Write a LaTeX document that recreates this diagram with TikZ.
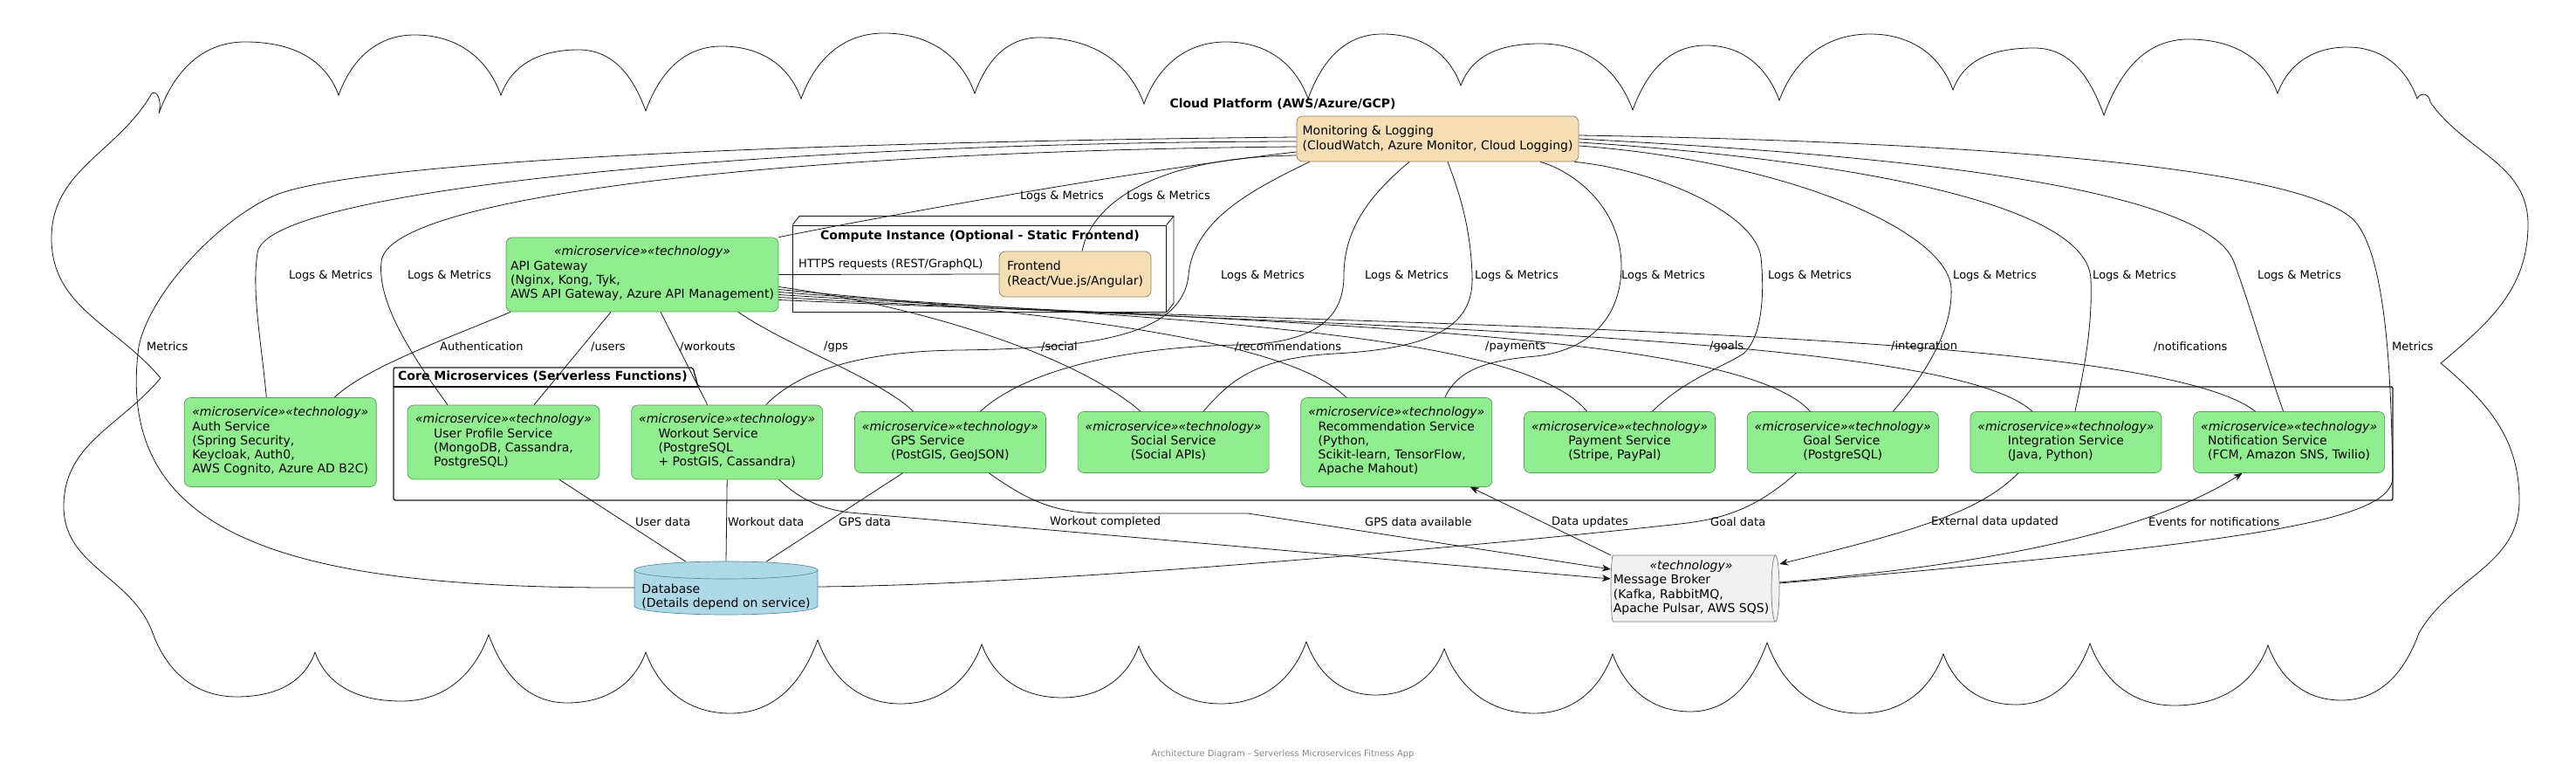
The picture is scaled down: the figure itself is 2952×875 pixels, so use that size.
\documentclass[tikz,border=0pt]{standalone}
\usepackage{fontspec}
\setmainfont{DejaVu Sans}
\usetikzlibrary{positioning,arrows.meta}

\definecolor{svcgreen}{HTML}{90EE90}
\definecolor{svcline}{HTML}{5A9A5A}
\definecolor{wheatfill}{HTML}{F5DEB3}
\definecolor{wheatline}{HTML}{8E7F62}
\definecolor{dbfill}{HTML}{ADD8E6}
\definecolor{dbline}{HTML}{5E8C9C}
\definecolor{queuefill}{HTML}{F1F1F1}
\definecolor{queueline}{HTML}{7A7A7A}
\definecolor{edgeblack}{HTML}{181818}
\definecolor{footgray}{HTML}{888888}

\newcommand{\nodefont}{\fontsize{14}{16.3}\selectfont}
\newcommand{\lblfont}{\fontsize{13}{15}\selectfont}
\newcommand{\svctext}[1]{\textit{«microservice»«technology»}\\\begin{tabular}[t]{@{}l@{}}#1\end{tabular}}
\newcommand{\techtext}[1]{\textit{«technology»}\\\begin{tabular}[t]{@{}l@{}}#1\end{tabular}}

\begin{document}
\begin{tikzpicture}[x=1pt, y=1pt,
  svc/.style={draw=svcline, fill=svcgreen, line width=0.7pt, rounded corners=7pt, minimum width=219pt, inner sep=0pt, align=center, font=\nodefont},
  infra/.style={draw=wheatline, fill=wheatfill, line width=0.7pt, rounded corners=7pt, inner sep=0pt, align=left, font=\nodefont},
  textonly/.style={inner sep=0pt, align=left, font=\nodefont},
  ttl/.style={inner sep=0pt, font=\nodefont\bfseries},
  lbl/.style={inner sep=0pt, anchor=west, font=\lblfont},
  link/.style={draw=edgeblack, line width=0.8pt},
  arr/.style={link, -{Stealth[length=10pt,width=8pt,inset=3pt]}},
  pkgframe/.style={draw=edgeblack, line width=1.3pt, rounded corners=2pt},
  cloudline/.style={draw=edgeblack, line width=0.8pt}
]
\useasboundingbox (0,0) rectangle (2952,875);

% cloud outline
\draw[cloudline] (182,745)
  \foreach \px/\py/\cx/\cy in {281/827/388/766, 475/835/574/766, 663/818/740/748, 827/822/918/762, 1013/837/1117/768, 1191/832/1311/756, 1405/827/1499/762, 1584/836/1674/777, 1765/825/1871/749, 1955/823/2039/760, 2143/836/2238/772, 2331/820/2411/743, 2508/830/2610/768, 2690/821/2770/762}
    { to[out=70,in=180] (\px,\py) to[out=0,in=110] (\cx,\cy) }
  .. controls (2774,770) and (2784,768) .. (2785,758)
  to[out=-55,in=90] (2897,618) to[out=-90,in=40] (2797,459)
  to[out=-40,in=90] (2887,302) to[out=-90,in=60] (2772,150)
  \foreach \bx/\by/\cx/\cy in {2683/73/2599/136, 2492/67/2395/138, 2310/68/2227/126, 2132/58/2025/139, 1937/60/1848/126, 1758/58/1655/132, 1576/79/1497/140, 1399/69/1305/135, 1217/76/1125/137, 1032/69/937/142, 837/58/740/128, 650/70/560/148, 460/72/361/128, 271/77/175/150}
    { to[out=-110,in=0] (\bx,\by) to[out=180,in=-70] (\cx,\cy) }
  to[out=110,in=-90] (73,295) to[out=90,in=-130] (184,442)
  to[out=130,in=-90] (59,602) to[out=90,in=-120] (174,768)
  .. controls (180,772) and (186,760) .. (182,745);
\node[ttl] (cloud_title) at (1470,756) {Cloud Platform (AWS/Azure/GCP)};

% core microservices package
\draw[pkgframe] (451,302) -- (451,454) -- (794,454) -- (800,432) -- (2742,432) -- (2742,302) -- cycle;
\draw[pkgframe] (451,432) -- (800,432);
\node[ttl, anchor=west] (core_title) at (456,444) {Core Microservices (Serverless Functions)};

% compute instance box
\node[draw=edgeblack, line width=0.9pt, minimum width=428pt, minimum height=99pt, inner sep=0pt] (compute) at (1122.5,567.5) {};
\draw[edgeblack, line width=0.9pt] (compute.north west) -- ++(8,10) -- ([shift={(8,10)}]compute.north east) -- ([shift={(8,10)}]compute.south east) -- (compute.south east);
\draw[edgeblack, line width=0.9pt] (compute.north east) -- ++(8,10);
\node[ttl] (compute_title) at (1123,604) {Compute Instance (Optional - Static Frontend)};

% nodes
\node[infra, minimum width=323pt, minimum height=52pt] (monitoring) at (1647.5,716) {Monitoring \& Logging\\(CloudWatch, Azure Monitor, Cloud Logging)};
\node[svc, minimum width=312pt, minimum height=85pt] (api_gateway) at (736,560.5) {\svctext{API Gateway\\(Nginx, Kong, Tyk,\\AWS API Gateway, Azure API Management)}};
\node[infra, minimum width=174pt, minimum height=52pt] (frontend) at (1232,561) {Frontend\\(React/Vue.js/Angular)};

\node[svc, minimum width=220pt, minimum height=85pt] (user_profile) at (577,368.5) {\svctext{User Profile Service\\(MongoDB, Cassandra,\\PostgreSQL)}};
\node[svc, minimum width=220pt, minimum height=102pt, left=35pt of user_profile] (auth) {\svctext{Auth Service\\(Spring Security,\\Keycloak, Auth0,\\AWS Cognito, Azure AD B2C)}};
\node[svc, minimum height=85pt, right=36pt of user_profile] (workout) {\svctext{Workout Service\\(PostgreSQL\\+ PostGIS, Cassandra)}};
\node[svc, minimum height=70pt, right=36pt of workout] (gps) {\svctext{GPS Service\\(PostGIS, GeoJSON)}};
\node[svc, minimum height=70pt, right=36pt of gps] (social) {\svctext{Social Service\\(Social APIs)}};
\node[svc, minimum height=102pt, right=36pt of social] (recommendation) {\svctext{Recommendation Service\\(Python,\\Scikit-learn, TensorFlow,\\Apache Mahout)}};
\node[svc, minimum height=70pt, right=36pt of recommendation] (payment) {\svctext{Payment Service\\(Stripe, PayPal)}};
\node[svc, minimum height=70pt, right=36pt of payment] (goal) {\svctext{Goal Service\\(PostgreSQL)}};
\node[svc, minimum height=70pt, right=36pt of goal] (integration) {\svctext{Integration Service\\(Java, Python)}};
\node[svc, minimum height=70pt, right=36pt of integration] (notification) {\svctext{Notification Service\\(FCM, Amazon SNS, Twilio)}};

% database cylinder
\filldraw[draw=dbline, fill=dbfill, line width=0.7pt] (727,222) -- (727,181) arc[start angle=180, end angle=360, x radius=105, y radius=10] -- (937,222) arc[start angle=0, end angle=180, x radius=105, y radius=10] -- cycle;
\draw[dbline, line width=0.7pt] (727,222) arc[start angle=180, end angle=360, x radius=105, y radius=10];
\node[textonly, minimum width=210pt, minimum height=41pt] (database) at (832,191.5) {Database\\(Details depend on service)};

% message broker queue
\filldraw[draw=queueline, fill=queuefill, line width=0.7pt] (1848.5,239) -- (2034.5,239) arc[start angle=90, end angle=-90, x radius=4.5, y radius=38] -- (1848.5,163) arc[start angle=270, end angle=90, x radius=2.5, y radius=38] -- cycle;
\draw[queueline, line width=0.7pt] (2034.5,239) arc[start angle=90, end angle=270, x radius=4.5, y radius=38];
\node[textonly, align=center, minimum width=184pt, minimum height=76pt] (broker) at (1938,201) {\techtext{Message Broker\\(Kafka, RabbitMQ,\\Apache Pulsar, AWS SQS)}};

% gateway routes
\draw[link] (api_gateway.east) -- (frontend.west);
\draw[link] ([xshift=-151pt]api_gateway.south) .. controls (520,490) and (420,455) .. ([xshift=62pt]auth.north);
\draw[link] ([xshift=-36pt]api_gateway.south) -- ([xshift=35pt]user_profile.north);
\draw[link] ([xshift=21pt]api_gateway.south) -- ([xshift=-22.5pt]workout.north);
\draw[link] ([xshift=110pt]api_gateway.south) .. controls (900,480) and (1010,440) .. ([xshift=-42.5pt]gps.north);
\draw[link] ([yshift=-14pt]api_gateway.east) .. controls (1050,525) and (1230,470) .. ([xshift=-37.5pt]social.north);
\draw[link] ([yshift=-17pt]api_gateway.east) .. controls (1200,515) and (1470,490) .. ([xshift=-57.5pt]recommendation.north);
\draw[link] ([yshift=-20pt]api_gateway.east) .. controls (1300,510) and (1740,500) .. ([xshift=-37.5pt]payment.north);
\draw[link] ([yshift=-23pt]api_gateway.east) .. controls (1400,505) and (1990,500) .. ([xshift=-37.5pt]goal.north);
\draw[link] ([yshift=-26pt]api_gateway.east) .. controls (1500,500) and (2230,495) .. ([xshift=-38.5pt]integration.north);
\draw[link] ([yshift=-29pt]api_gateway.east) .. controls (1600,500) and (2460,500) .. ([xshift=-38.5pt]notification.north);

\node[lbl] (lbl_https) at (915,572) {HTTPS requests (REST/GraphQL)};
\node[lbl] (lbl_auth) at (504,478) {Authentication};
\node[lbl] (lbl_users) at (677,478) {/users};
\node[lbl] (lbl_workouts) at (779,478) {/workouts};
\node[lbl] (lbl_gps) at (944,478) {/gps};
\node[lbl] (lbl_social) at (1193,478) {/social};
\node[lbl] (lbl_rec) at (1415,478) {/recommendations};
\node[lbl] (lbl_payments) at (1702,478) {/payments};
\node[lbl] (lbl_goals) at (1959,478) {/goals};
\node[lbl] (lbl_integration) at (2167,478) {/integration};
\node[lbl] (lbl_notifications) at (2468,478) {/notifications};

% logs and metrics
\draw[link] ([xshift=-16pt]auth.north) .. controls (300,480) and (288,540) .. (295,585) .. controls (302,660) and (900,712) .. ([yshift=-3pt]monitoring.west);
\draw[link] ([xshift=-64pt]user_profile.north) .. controls (470,470) and (432,530) .. (437,575) .. controls (442,650) and (900,702) .. ([yshift=-9pt]monitoring.west);
\draw[link] (api_gateway.north east) .. controls (1000,625) and (1300,680) .. ([yshift=-15pt]monitoring.west);
\draw[link] ([xshift=8pt]frontend.north) .. controls (1250,640) and (1320,695) .. ([yshift=-19pt]monitoring.west);
\draw[link] ([xshift=44.5pt]workout.north) .. controls (920,455) and (1000,473) .. (1100,474) .. controls (1250,476) and (1355,490) .. (1362,560) .. controls (1368,625) and (1440,660) .. ([xshift=15pt]monitoring.south west);
\draw[link] ([xshift=34.5pt]gps.north) .. controls (1180,455) and (1300,478) .. (1420,480) .. controls (1520,482) and (1540,520) .. (1540,560) .. controls (1540,620) and (1580,660) .. ([xshift=-32.5pt]monitoring.south);
\draw[link] ([xshift=34.5pt]social.north) .. controls (1410,440) and (1440,465) .. (1530,470) .. controls (1640,476) and (1690,500) .. (1687,560) .. controls (1685,620) and (1670,660) .. ([xshift=11.5pt]monitoring.south);
\draw[link] ([xshift=55.5pt]recommendation.north) .. controls (1670,450) and (1700,462) .. (1760,467) .. controls (1830,475) and (1858,520) .. (1858,570) .. controls (1858,640) and (1800,680) .. ([xshift=117.5pt]monitoring.south);
\draw[link] ([xshift=37.5pt]payment.north) .. controls (1930,440) and (1975,455) .. (1998,470) .. controls (2020,490) and (2022,540) .. (2018,580) .. controls (2012,630) and (1900,680) .. ([xshift=-5pt]monitoring.south east);
\draw[link] ([xshift=57.5pt]goal.north) .. controls (2210,450) and (2238,500) .. (2236,545) .. controls (2232,610) and (2050,690) .. ([yshift=-8pt]monitoring.east);
\draw[link] ([xshift=10.5pt]integration.north) .. controls (2388,450) and (2398,500) .. (2396,555) .. controls (2392,660) and (2000,700) .. ([yshift=-4pt]monitoring.east);
\draw[link] ([xshift=-6.5pt]notification.north) .. controls (2600,450) and (2580,520) .. (2560,575) .. controls (2520,680) and (2000,705) .. (monitoring.east);
\draw[link] ([yshift=2pt]monitoring.west) .. controls (900,712) and (400,690) .. (312,650) .. controls (250,622) and (172,540) .. (159,478) .. controls (130,260) and (330,200) .. ([yshift=10.5pt]database.west);
\draw[link] ([yshift=4pt]monitoring.east) .. controls (2300,712) and (2650,680) .. (2700,620) .. controls (2740,570) and (2740,400) .. (2742,330) .. controls (2744,280) and (2600,255) .. ([xshift=9pt,yshift=6pt]broker.east);

\node[lbl] (lbl_api_logs) at (1169,650) {Logs \& Metrics};
\node[lbl] (lbl_frontend_logs) at (1291,650) {Logs \& Metrics};
\node[lbl] (lbl_auth_logs) at (331,559) {Logs \& Metrics};
\node[lbl] (lbl_user_logs) at (467,559) {Logs \& Metrics};
\node[lbl] (lbl_workout_logs) at (1399,559) {Logs \& Metrics};
\node[lbl] (lbl_gps_logs) at (1564,559) {Logs \& Metrics};
\node[lbl] (lbl_social_logs) at (1690,559) {Logs \& Metrics};
\node[lbl] (lbl_rec_logs) at (1858,559) {Logs \& Metrics};
\node[lbl] (lbl_payment_logs) at (2026,559) {Logs \& Metrics};
\node[lbl] (lbl_goal_logs) at (2238,559) {Logs \& Metrics};
\node[lbl] (lbl_integration_logs) at (2398,559) {Logs \& Metrics};
\node[lbl] (lbl_notification_logs) at (2587,559) {Logs \& Metrics};
\node[lbl] (lbl_db_metrics) at (168,478) {Metrics};
\node[lbl] (lbl_broker_metrics) at (2741,478) {Metrics};

% data and events
\draw[link] ([xshift=64pt]user_profile.south) -- ([xshift=-46pt,yshift=19.5pt]database.north);
\draw[link] (workout.south) -- ([yshift=20pt]database.north);
\draw[link] ([xshift=-54.5pt]gps.south) -- ([xshift=46pt,yshift=19.5pt]database.north);
\draw[arr] ([xshift=59.5pt]workout.south) .. controls (915,305) and (940,290) .. (985,287) -- ([yshift=11pt]broker.west);
\draw[arr] ([xshift=44.5pt]gps.south) .. controls (1180,300) and (1210,288) .. (1260,287) -- (1430,287) -- ([yshift=22pt]broker.west);
\draw[arr] (broker.north west) -- ([xshift=84.5pt]recommendation.south);
\draw[link] ([xshift=-53.5pt]goal.south) .. controls (2010,290) and (1970,280) .. (1925,275) .. controls (1700,250) and (1200,205) .. ([yshift=11.5pt]database.east);
\draw[arr] ([xshift=-54.5pt]integration.south) .. controls (2270,290) and (2200,268) .. ([xshift=9pt,yshift=28pt]broker.east);
\draw[arr] ([xshift=9pt,yshift=7pt]broker.east) .. controls (2300,230) and (2470,270) .. ([xshift=-53.5pt]notification.south);

\node[lbl] (lbl_user_data) at (728,277) {User data};
\node[lbl] (lbl_workout_data) at (834,277) {Workout data};
\node[lbl] (lbl_gps_data) at (961,277) {GPS data};
\node[lbl] (lbl_workout_done) at (1203,277) {Workout completed};
\node[lbl] (lbl_gps_available) at (1564,277) {GPS data available};
\node[lbl] (lbl_data_updates) at (1778,277) {Data updates};
\node[lbl] (lbl_goal_data) at (1960,277) {Goal data};
\node[lbl] (lbl_external) at (2213,277) {External data updated};
\node[lbl] (lbl_events) at (2462,277) {Events for notifications};

\node[inner sep=0pt, font=\fontsize{10}{12}\selectfont, text=footgray] (footer) at (1470,11) {Architecture Diagram - Serverless Microservices Fitness App};
\end{tikzpicture}
\end{document}
